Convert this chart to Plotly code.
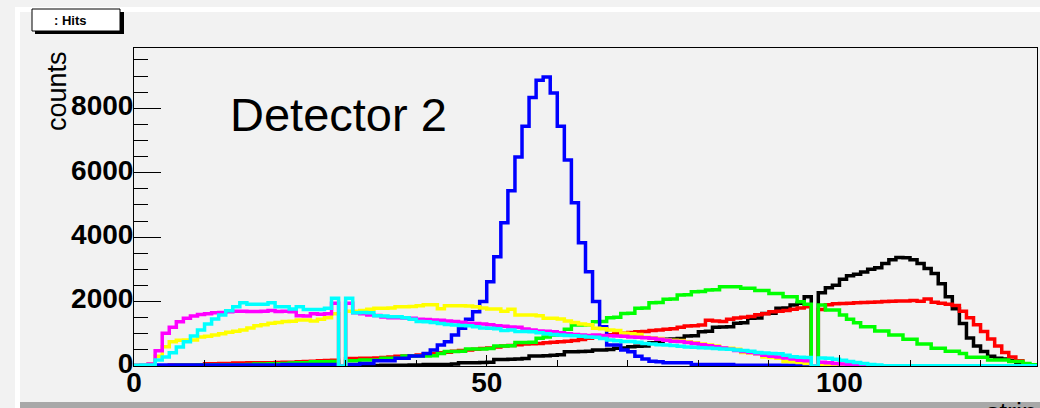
import plotly.graph_objects as go

# ---------------- data ----------------
strip_edges = list(range(0, 129))  # 128 strips, bin edges 0..128

black = [0]*31 + [10, 10, 15, 15, 20, 20, 25, 25, 30, 30,
         50, 50, 50, 50, 60, 100, 100, 100, 110, 120,
         200, 200, 210, 220, 230, 310, 310, 320, 330, 350,
         445, 445, 450, 460, 500, 500, 510, 550, 560, 600,
         610, 620, 720, 730, 830, 840, 850, 930, 940, 1065,
         1080, 1200, 1210, 1220, 1330, 1340, 1480, 1490, 1630, 1640,
         1790, 1800, 1890, 1950, 2150, 0, 2270, 2430, 2510, 2690,
         2800, 2850, 2920, 3000, 3050, 3180, 3300, 3370, 3360, 3300,
         3180, 3030, 2870, 2550, 2150, 1780, 1320, 870, 620, 450,
         300, 240, 220, 160, 80, 30, 10]

red = [0, 0, 0, 0, 0, 30, 30, 30, 30, 40,
       70, 70, 80, 80, 90, 90, 100, 100, 100, 100,
       110, 120, 120, 130, 140, 150, 160, 170, 180, 0,
       230, 230, 240, 240, 250, 260, 280, 300, 310, 320,
       340, 370, 390, 410, 430, 460, 480, 500, 520, 540,
       560, 590, 620, 640, 660, 680, 690, 700, 720, 740,
       750, 770, 790, 820, 860, 900, 940, 970, 1000, 1020,
       1040, 1060, 1070, 1100, 1120, 1140, 1160, 1200, 1240, 1250,
       1270, 1420, 1400, 1380, 1450, 1490, 1510, 1540, 1590, 1620,
       1680, 1700, 1720, 1760, 1800, 1840, 0, 1750, 1900, 1930,
       1940, 1950, 1960, 1970, 1980, 1990, 2000, 2010, 2020, 2020,
       2030, 2010, 2080, 1980, 1950, 1920, 1880, 1700, 1500, 1280,
       1070, 840, 620, 420, 280, 160, 40, 10]

green = [0, 0, 0, 0, 0, 0, 20, 20, 25, 30,
         30, 35, 35, 40, 40, 40, 50, 60, 60, 70,
         70, 80, 90, 100, 100, 130, 130, 130, 140, 0,
         160, 160, 185, 185, 185, 240, 240, 240, 310, 310,
         310, 310, 320, 390, 450, 450, 460, 530, 530, 530,
         540, 620, 620, 630, 730, 730, 740, 860, 900, 960,
         970, 1140, 1270, 1270, 1280, 1375, 1380, 1500, 1510, 1630,
         1640, 1790, 1800, 1960, 1970, 2070, 2080, 2200, 2210, 2305,
         2310, 2360, 2370, 2460, 2460, 2460, 2410, 2410, 2340, 2340,
         2250, 2250, 2150, 2150, 1995, 1920, 0, 1890, 1740, 1740,
         1580, 1450, 1340, 1220, 1220, 1090, 1090, 960, 960, 830,
         830, 680, 680, 550, 550, 460, 460, 390, 270, 270,
         270, 190, 190, 190, 140, 140, 80, 40]

blue = [0, 0, 0, 30, 30, 30, 30, 30, 30, 30,
        30, 30, 30, 30, 30, 30, 30, 30, 30, 30,
        30, 50, 50, 50, 50, 50, 50, 50, 50, 0,
        50, 50, 80, 80, 165, 165, 165, 240, 240, 310,
        310, 390, 500, 650, 750, 960, 1170, 1450, 1680, 2000,
        2615, 3390, 4445, 5440, 6490, 7440, 8330, 8870, 8970, 8475,
        7440, 6390, 5065, 3825, 2925, 2000, 1220, 650, 650, 500,
        440, 300, 220, 150, 130, 100, 100, 100, 100, 50,
        50, 50, 50, 50, 50, 25, 25, 25, 25, 25,
        25, 25, 25, 25, 25, 25, 0, 10, 10, 10,
        10, 5, 5, 5, 5, 5, 5, 5, 5, 5,
        0, 0, 0, 0, 0, 0, 0, 0, 0, 0,
        0, 0, 0, 0, 0, 0, 0, 0]

yellow = [20, 30, 60, 300, 600, 750, 800, 810, 810, 900,
          920, 960, 1000, 1050, 1080, 1120, 1180, 1250, 1280, 1330,
          1350, 1380, 1390, 1430, 1430, 1400, 1450, 1500, 1620, 0,
          1700, 1700, 1720, 1760, 1790, 1790, 1800, 1840, 1840, 1850,
          1870, 1900, 1900, 1780, 1870, 1870, 1870, 1860, 1840, 1800,
          1770, 1770, 1700, 1760, 1580, 1580, 1580, 1560, 1480, 1480,
          1460, 1400, 1350, 1300, 1280, 1170, 1160, 1120, 1100, 1013,
          1000, 980, 890, 880, 850, 810, 800, 790, 750, 720,
          680, 650, 620, 560, 550, 520, 420, 400, 380, 280,
          260, 240, 140, 130, 110, 80, 0, 40, 20, 10,
          10, 5, 5, 0, 0, 0, 0, 0, 0, 0,
          0, 0, 0, 0, 0, 0, 0, 0, 0, 0,
          0, 0, 0, 0, 0, 0, 0, 0]

magenta = [20, 30, 60, 470, 1020, 1200, 1375, 1480, 1550, 1600,
           1620, 1650, 1660, 1680, 1700, 1700, 1690, 1690, 1700, 1720,
           1690, 1700, 1680, 1560, 1550, 1620, 1610, 1620, 1950, 0,
           1950, 1650, 1620, 1580, 1570, 1520, 1500, 1500, 1490, 1480,
           1450, 1440, 1430, 1420, 1400, 1380, 1360, 1330, 1320, 1300,
           1280, 1250, 1230, 1210, 1200, 1150, 1120, 1090, 1080, 1060,
           1030, 1000, 980, 960, 950, 960, 950, 940, 930, 920,
           900, 890, 880, 860, 830, 800, 770, 760, 730, 700,
           660, 630, 600, 560, 520, 480, 450, 420, 380, 330,
           300, 280, 250, 220, 180, 160, 0, 120, 100, 80,
           60, 50, 30, 20, 10, 0, 0, 0, 0, 0,
           0, 0, 0, 0, 0, 0, 0, 0, 0, 0,
           0, 0, 0, 0, 0, 0, 0, 0]

cyan = [20, 30, 30, 190, 280, 410, 590, 750, 930, 1115,
        1300, 1460, 1580, 1715, 1840, 1960, 1920, 1920, 1920, 1960,
        1840, 1840, 1770, 1840, 1750, 1750, 1750, 1790, 2100, 0,
        2100, 1650, 1660, 1650, 1560, 1550, 1530, 1530, 1500, 1450,
        1380, 1370, 1350, 1320, 1290, 1270, 1260, 1250, 1220, 1180,
        1170, 1160, 1100, 1120, 1070, 1070, 1060, 1030, 1000, 980,
        960, 950, 940, 920, 900, 890, 850, 810, 780, 760,
        760, 740, 700, 680, 660, 650, 640, 610, 590, 580,
        570, 560, 540, 530, 520, 500, 480, 460, 420, 400,
        390, 380, 330, 290, 270, 260, 0, 250, 240, 210,
        180, 140, 110, 80, 50, 30, 10, 10, 10, 10,
        10, 10, 10, 10, 10, 10, 10, 10, 10, 10,
        10, 10, 10, 10, 10, 10, 10, 10]

series_names = ["h1", "h2", "h3", "h4", "h5", "h6", "h7"]
series_values = [black, red, green, blue, yellow, magenta, cyan]
series_colors = ["#000000", "#ff0000", "#00ff00", "#0000ff", "#ffff00", "#ff00ff", "#00ffff"]

y_tick_vals = [0, 2000, 4000, 6000, 8000]
y_tick_text = ["0", "2000", "4000", "6000", "8000"]
x_tick_vals = [0, 50, 100]
x_tick_text = ["0", "50", "100"]

# ---------------- layout geometry ----------------
W, H = 1040, 408
L, R, T, B = 134, 1037, 48, 366
BG = "#f2f2f2"
FONT = "Liberation Sans, Arial, sans-serif"


def pxx(x):
    return (x - L) / (R - L)


def pxy(y):
    return (B - y) / (B - T)


fig = go.Figure()
for name, vals, col in zip(series_names, series_values, series_colors):
    fig.add_trace(go.Scatter(
        x=strip_edges,
        y=vals + [vals[-1]],
        mode="lines",
        line=dict(color=col, width=3.5, shape="hv"),
        name=name,
        showlegend=False,
        hoverinfo="skip",
    ))

tickfont = dict(family=FONT, size=28, color="black", weight="bold")

fig.update_layout(
    width=W, height=H,
    margin=dict(l=L, r=W - R, t=T, b=H - B, pad=0),
    paper_bgcolor=BG,
    plot_bgcolor=BG,
    showlegend=False,
    xaxis=dict(
        range=[0, 128], showgrid=False, zeroline=False,
        showline=True, linecolor="black", linewidth=1, mirror=True,
        ticks="inside", ticklen=11, tickcolor="black", tickwidth=1,
        tickvals=x_tick_vals, ticktext=x_tick_text,
        minor=dict(ticks="inside", dtick=10, tick0=0, ticklen=6, tickcolor="black", showgrid=False),
        tickfont=tickfont, ticklabelstandoff=-9,
    ),
    yaxis=dict(
        range=[0, 9870], showgrid=False, zeroline=False,
        showline=True, linecolor="black", linewidth=1, mirror=True,
        ticks="inside", ticklen=27, tickcolor="black", tickwidth=1,
        tickvals=y_tick_vals, ticktext=y_tick_text,
        minor=dict(ticks="inside", dtick=500, tick0=0, ticklen=14, tickcolor="black", showgrid=False),
        tickfont=tickfont, ticklabelstandoff=-6, ticklabelshift=-3,
    ),
)

shapes = []
# canvas bevel: white top/left highlight, grey bottom shadow
shapes.append(dict(type="rect", xref="paper", yref="paper",
                   x0=pxx(15), x1=pxx(1045), y0=pxy(12), y1=pxy(7),
                   fillcolor="white", line=dict(width=0), layer="below"))
shapes.append(dict(type="rect", xref="paper", yref="paper",
                   x0=pxx(15), x1=pxx(20), y0=pxy(408), y1=pxy(7),
                   fillcolor="white", line=dict(width=0), layer="below"))
shapes.append(dict(type="rect", xref="paper", yref="paper",
                   x0=pxx(20), x1=pxx(1045), y0=pxy(410), y1=pxy(402),
                   fillcolor="#a8a8a8", line=dict(width=0), layer="below"))
# title box with shadow
shapes.append(dict(type="rect", xref="paper", yref="paper",
                   x0=pxx(35), x1=pxx(124), y0=pxy(34), y1=pxy(12),
                   fillcolor="black", line=dict(width=0)))
shapes.append(dict(type="rect", xref="paper", yref="paper",
                   x0=pxx(32), x1=pxx(120), y0=pxy(31), y1=pxy(9),
                   fillcolor="white", line=dict(color="black", width=1)))
fig.update_layout(shapes=shapes)

fig.add_annotation(text="<b>: Hits</b>", xref="paper", yref="paper",
                   x=pxx(70), y=pxy(20), xanchor="center", yanchor="middle", showarrow=False,
                   font=dict(family=FONT, size=13, color="black"))
fig.add_annotation(text="Detector 2", xref="paper", yref="paper",
                   x=pxx(228), y=pxy(115), xanchor="left", yanchor="middle", showarrow=False,
                   font=dict(family=FONT, size=47, color="black"))
fig.add_annotation(text="counts", xref="paper", yref="paper",
                   x=pxx(57), y=pxy(91), xanchor="center", yanchor="middle",
                   textangle=-90, showarrow=False,
                   font=dict(family=FONT, size=27, color="black"))
fig.add_annotation(text="strip", xref="paper", yref="paper",
                   x=pxx(984), y=pxy(396), xanchor="left", yanchor="top", showarrow=False,
                   font=dict(family=FONT, size=27, color="black"))

fig.write_html("out.html")
